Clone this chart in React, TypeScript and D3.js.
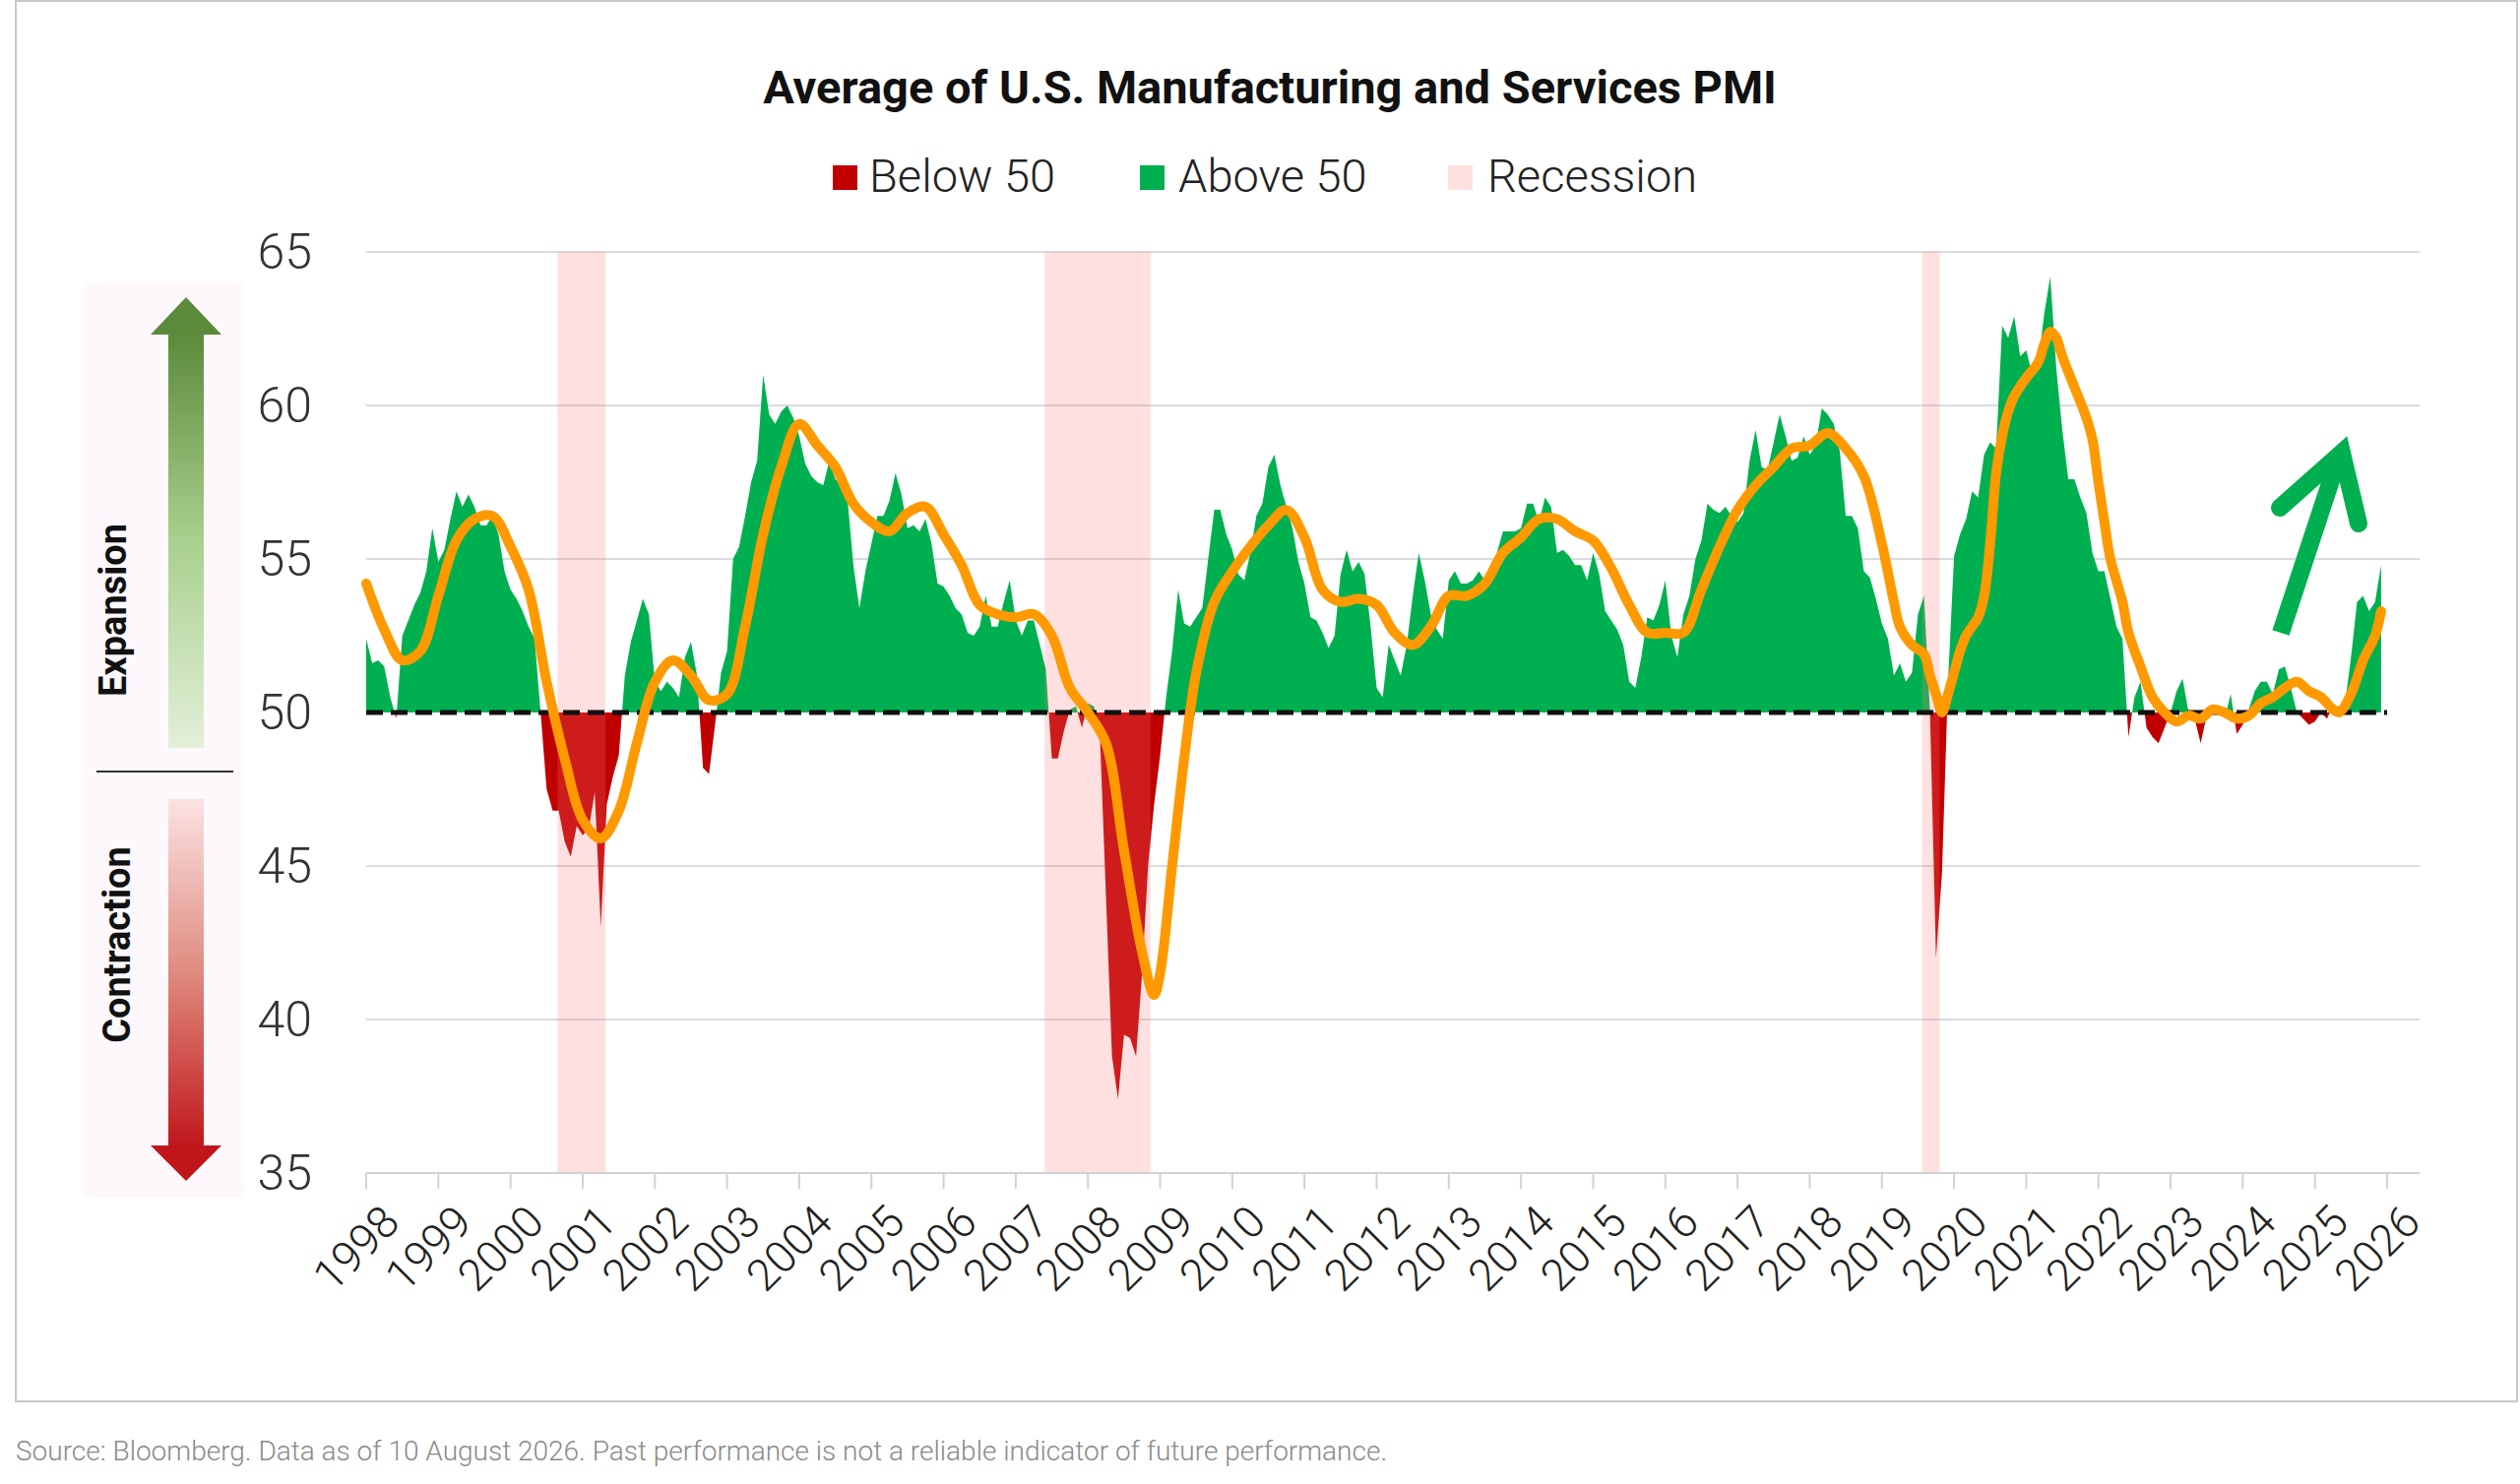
import { useEffect } from 'react';
import * as d3 from 'd3';

// monthly PMI average, Jan 1998 .. Dec 2025 (12 values per year)
const PMI_BY_YEAR: number[][] = [
  [52.4, 51.6, 51.7, 51.5, 50.5, 49.8, 52.5, 53.0, 53.5, 53.9, 54.6, 56.0],
  [54.9, 55.3, 56.3, 57.2, 56.7, 57.1, 56.7, 56.1, 56.1, 56.4, 55.8, 54.6],
  [54.0, 53.7, 53.3, 52.8, 52.4, 50.0, 47.5, 46.8, 46.8, 45.8, 45.3, 46.3],
  [46.0, 46.2, 47.4, 43.0, 47.0, 47.9, 48.6, 51.2, 52.3, 53.0, 53.7, 53.2],
  [51.0, 50.7, 51.0, 50.8, 50.5, 51.8, 52.3, 51.2, 48.2, 48.0, 49.6, 51.3],
  [52.0, 55.0, 55.4, 56.4, 57.5, 58.2, 61.0, 59.7, 59.4, 59.8, 60.0, 59.6],
  [59.0, 58.1, 57.7, 57.5, 57.4, 58.2, 57.6, 57.4, 57.0, 54.8, 53.4, 54.6],
  [55.5, 56.4, 56.4, 56.9, 57.8, 57.1, 56.0, 56.1, 55.9, 56.3, 55.5, 54.2],
  [54.1, 53.8, 53.4, 53.2, 52.6, 52.5, 52.8, 53.8, 52.8, 52.8, 53.6, 54.3],
  [53.0, 52.5, 53.0, 53.0, 52.2, 51.4, 48.5, 48.5, 49.4, 50.1, 50.2, 49.5],
  [50.3, 50.2, 49.2, 44.0, 38.8, 37.4, 39.5, 39.4, 38.8, 41.5, 45.0, 47.0],
  [48.6, 50.5, 52.0, 54.0, 52.9, 52.8, 53.1, 53.4, 55.0, 56.6, 56.6, 55.8],
  [55.3, 54.5, 54.3, 55.2, 56.4, 56.8, 58.0, 58.4, 57.4, 56.7, 56.0, 54.9],
  [54.2, 53.1, 53.0, 52.6, 52.1, 52.5, 54.5, 55.3, 54.6, 54.9, 54.5, 52.8],
  [50.8, 50.5, 52.2, 51.7, 51.2, 52.2, 53.8, 55.2, 54.3, 53.2, 52.7, 52.4],
  [54.3, 54.6, 54.2, 54.2, 54.3, 54.6, 54.3, 54.2, 55.2, 55.9, 55.9, 55.9],
  [56.0, 56.8, 56.8, 56.2, 57.0, 56.7, 55.2, 55.3, 55.1, 54.8, 54.8, 54.3],
  [55.2, 54.5, 53.3, 53.0, 52.7, 52.2, 51.0, 50.8, 51.8, 53.1, 53.0, 53.5],
  [54.3, 52.5, 51.8, 53.2, 53.8, 55.0, 55.6, 56.8, 56.6, 56.5, 56.7, 56.4],
  [56.2, 56.5, 58.2, 59.2, 58.0, 57.9, 58.8, 59.7, 59.0, 58.2, 58.3, 59.0],
  [58.4, 58.7, 59.9, 59.7, 59.4, 58.5, 56.4, 56.4, 56.0, 54.6, 54.4, 53.7],
  [52.9, 52.4, 51.2, 51.6, 51.0, 51.3, 53.2, 53.8, 50.0, 42.0, 44.8, 51.0],
  [55.1, 55.8, 56.3, 57.2, 57.0, 58.4, 58.8, 58.6, 62.6, 62.2, 62.9, 61.6],
  [61.8, 61.0, 61.4, 63.0, 64.2, 61.2, 59.2, 57.6, 57.6, 57.0, 56.5, 55.2],
  [54.6, 54.6, 53.7, 52.8, 52.4, 49.2, 50.5, 51.0, 49.5, 49.2, 49.0, 49.5],
  [50.0, 50.7, 51.1, 50.0, 49.8, 49.0, 49.9, 50.2, 50.2, 49.8, 50.6, 49.3],
  [49.6, 50.1, 50.7, 51.0, 51.0, 50.6, 51.4, 51.5, 50.8, 50.0, 49.8, 49.6],
  [49.7, 50.0, 49.8, 50.2, 50.2, 50.3, 51.8, 53.6, 53.8, 53.3, 53.6, 54.8],
];
const PMI = PMI_BY_YEAR.flat();

// smoothed trend line: [month index since Jan 1998, value]
const TREND: [number, number][] = [
  [0, 54.2], [3, 52.7], [6, 51.7], [9, 52.0], [12, 53.8], [15, 55.6], [18, 56.3], [21, 56.4],
  [24, 55.4], [27, 54.0], [30, 51.0], [33, 48.5], [36, 46.5], [39, 45.9], [42, 46.8], [45, 49.0],
  [48, 51.0], [51, 51.7], [54, 51.2], [57, 50.4], [60, 50.6], [63, 52.8], [66, 55.8], [69, 58.0],
  [72, 59.4], [75, 58.7], [78, 58.0], [81, 56.8], [84, 56.2], [87, 55.9], [90, 56.5], [93, 56.7],
  [96, 55.8], [99, 54.8], [102, 53.5], [105, 53.2], [108, 53.1], [111, 53.2], [114, 52.5], [117, 50.8],
  [120, 50.0], [123, 49.0], [126, 45.5], [129, 42.2], [131, 40.8], [132, 41.5], [134, 45.0], [136, 48.5],
  [138, 51.3], [141, 53.6], [144, 54.6], [147, 55.4], [150, 56.1], [153, 56.6], [156, 55.7], [159, 54.0],
  [162, 53.6], [165, 53.7], [168, 53.5], [171, 52.6], [174, 52.2], [177, 52.8], [180, 53.8], [183, 53.8],
  [186, 54.2], [189, 55.2], [192, 55.7], [195, 56.3], [198, 56.3], [201, 55.9], [204, 55.6], [207, 54.7],
  [210, 53.5], [213, 52.6], [216, 52.6], [219, 52.6], [222, 54.0], [225, 55.4], [228, 56.6], [231, 57.4],
  [234, 58.0], [237, 58.6], [240, 58.7], [243, 59.1], [246, 58.6], [249, 57.7], [252, 55.5], [254, 53.6],
  [255, 52.8], [257, 52.2], [259, 51.9], [260, 51.2], [261, 50.6], [262, 50.0], [263, 50.6], [264, 51.3],
  [265, 52.0], [266, 52.5], [267, 52.8], [268, 53.1], [269, 53.8], [270, 55.5], [271, 57.8], [272, 59.0],
  [273, 59.8], [274, 60.3], [276, 60.9], [278, 61.4], [279, 62.0], [280, 62.4], [281, 62.2], [282, 61.6],
  [284, 60.6], [286, 59.6], [287, 58.9], [288, 57.5], [289, 56.2], [290, 55.0], [292, 53.6], [293, 52.6],
  [295, 51.5], [297, 50.5], [299, 50.0], [301, 49.7], [303, 49.9], [305, 49.8], [307, 50.1], [309, 50.0],
  [311, 49.8], [313, 49.9], [315, 50.3], [317, 50.5], [319, 50.8], [321, 51.0], [323, 50.7], [325, 50.5],
  [327, 50.1], [328, 50.0], [330, 50.6], [332, 51.7], [334, 52.5], [335, 53.3],
];

// recession shading, in month index
const RECESSIONS: [number, number][] = [[31.8, 39.8], [112.8, 130.4], [258.7, 261.6]];

const YEARS = d3.range(1998, 2027);
const Y_TICKS = [35, 40, 45, 50, 55, 60, 65];

const GREEN = '#00B050';
const RED = '#C00000';
const ORANGE = '#FF9900';
const FONT = 'Roboto, "Open Sans", sans-serif';

export default function App() {
  useEffect(() => {
    document.body.style.margin = '0';
  }, []);

  const x = d3.scaleLinear().domain([0, 336]).range([372, 2425]);
  const y = d3.scaleLinear().domain([35, 65]).range([1192, 256]);

  const area = d3.area<number>()
    .x((_, i) => x(i))
    .y0(y(50))
    .y1((d) => y(d));
  const areaPath = area(PMI) || '';

  const trend = d3.line<[number, number]>()
    .x((d) => x(d[0]))
    .y((d) => y(d[1]))
    .curve(d3.curveCatmullRom.alpha(0.5))(TREND) || '';

  const legend = [
    { label: 'Below 50', color: RED, sx: 846, tx: 883 },
    { label: 'Above 50', color: GREEN, sx: 1158, tx: 1197 },
    { label: 'Recession', color: '#FDE0E0', sx: 1471, tx: 1511 },
  ];

  return (
    <svg width={2560} height={1508} style={{ display: 'block', background: '#fff' }} fontFamily={FONT}>
      <defs>
        <clipPath id="above"><rect x={0} y={0} width={2560} height={y(50)} /></clipPath>
        <clipPath id="below"><rect x={0} y={y(50)} width={2560} height={1508} /></clipPath>
        <linearGradient id="gUp" x1="0" y1="0" x2="0" y2="1">
          <stop offset="0" stopColor="#5B8A3A" />
          <stop offset="0.5" stopColor="#a9d08e" />
          <stop offset="1" stopColor="#e3efd9" />
        </linearGradient>
        <linearGradient id="gDown" x1="0" y1="0" x2="0" y2="1">
          <stop offset="0" stopColor="#fbe3e3" />
          <stop offset="0.5" stopColor="#df8a7e" />
          <stop offset="1" stopColor="#c0161a" />
        </linearGradient>
      </defs>

      <rect x={16} y={1} width={2541} height={1423} fill="none" stroke="#c8c8c8" strokeWidth={2} />

      <text x={1290} y={105} textAnchor="middle" fontSize={47} fontWeight={700} fill="#111">
        Average of U.S. Manufacturing and Services PMI
      </text>

      {legend.map((l) => (
        <g key={l.label}>
          <rect x={l.sx} y={168} width={25} height={25} fill={l.color} />
          <text x={l.tx} y={195} fontSize={47} fontWeight={300} fill="#222">{l.label}</text>
        </g>
      ))}

      {/* gridlines */}
      {Y_TICKS.filter((t) => t !== 35 && t !== 50).map((t) => (
        <line key={t} x1={372} x2={2458} y1={y(t)} y2={y(t)} stroke="#d9dbe0" strokeWidth={2} />
      ))}
      {Y_TICKS.map((t) => (
        <text key={t} x={317} y={y(t) + 17} textAnchor="end" fontSize={50} fontWeight={300} fill="#333">{t}</text>
      ))}

      {/* PMI area */}
      <path d={areaPath} fill={GREEN} clipPath="url(#above)" />
      <path d={areaPath} fill={RED} clipPath="url(#below)" />

      {/* recession overlay */}
      {RECESSIONS.map(([a, b], i) => (
        <rect key={i} x={x(a)} y={y(65)} width={x(b) - x(a)} height={y(35) - y(65)} fill="rgb(255,120,120)" fillOpacity={0.23} />
      ))}

      <line x1={372} x2={2425} y1={y(50)} y2={y(50)} stroke="#111" strokeWidth={5} strokeDasharray="17 8" />

      <path d={trend} fill="none" stroke={ORANGE} strokeWidth={10} strokeLinejoin="round" strokeLinecap="round" />

      {/* x axis */}
      <line x1={372} x2={2458} y1={y(35)} y2={y(35)} stroke="#d0d2d6" strokeWidth={2} />
      {YEARS.map((yr, i) => (
        <g key={yr} transform={`translate(${x(i * 12)},${y(35)})`}>
          <line y2={16} stroke="#d0d2d6" strokeWidth={2} />
          <text transform="translate(14,30) rotate(-45)" textAnchor="end" dy="0.7em" fontSize={45} fontWeight={300} fill="#222">{yr}</text>
        </g>
      ))}

      {/* left expansion / contraction panel */}
      <rect x={85} y={286} width={163} height={931} fill="#fcf8fc" />
      <rect x={171} y={338} width={36} height={422} fill="url(#gUp)" />
      <path d="M189,302 L225,340 L153,340 Z" fill="#5B8A3A" />
      <line x1={98} x2={237} y1={784} y2={784} stroke="#333" strokeWidth={2} />
      <rect x={171} y={812} width={36} height={354} fill="url(#gDown)" />
      <path d="M189,1200 L225,1164 L153,1164 Z" fill="#c0161a" />
      <text transform="translate(128,620) rotate(-90)" textAnchor="middle" fontSize={38} fontWeight={700} fill="#111">Expansion</text>
      <text transform="translate(132,960) rotate(-90)" textAnchor="middle" fontSize={38} fontWeight={700} fill="#111">Contraction</text>

      {/* annotation arrow */}
      <line x1={2317} y1={643} x2={2374} y2={470} stroke={GREEN} strokeWidth={18} />
      <path d="M2316,516 L2379,460 L2396,532" fill="none" stroke={GREEN} strokeWidth={18} strokeLinecap="round" strokeLinejoin="miter" />

      <text x={16} y={1484} fontSize={28} fontWeight={300} fill="#8a8a8a">
        Source: Bloomberg. Data as of 10 August 2026. Past performance is not a reliable indicator of future performance.
      </text>
    </svg>
  );
}
